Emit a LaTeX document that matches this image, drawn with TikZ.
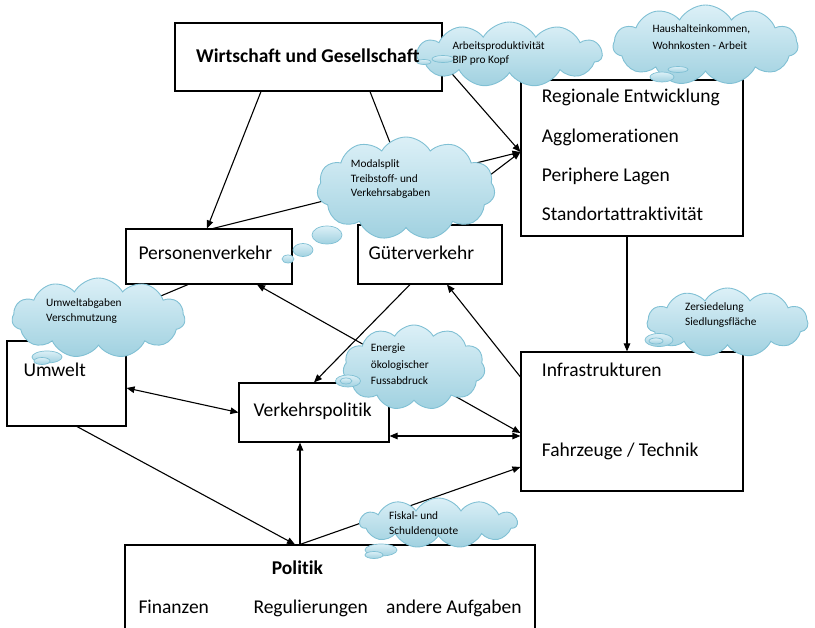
\documentclass[tikz,border=0pt]{standalone}
\usepackage{fontspec}
\setmainfont{Carlito}[Ligatures={NoCommon}]
\usetikzlibrary{shapes.symbols,shapes.geometric,arrows.meta}
\definecolor{cloudtop}{RGB}{220,240,247}
\definecolor{cloudbot}{RGB}{160,209,224}
\definecolor{cloudline}{RGB}{128,192,212}
\newcommand\boxfnt{\fontsize{19.5}{23}\selectfont}
\newcommand\cloudfnt{\fontsize{11.3}{14}\selectfont}
\begin{document}
\begin{tikzpicture}[x=1pt,y=-1pt,
  >={Triangle[length=8pt,width=6.5pt]},
  box/.style={draw=black,line width=1.1pt,inner sep=0pt,fill=white},
  conn/.style={draw=black,line width=1.1pt},
  cloudy/.style={cloud,cloud puffs=11,cloud puff arc=120,cloud ignores aspect,draw=cloudline,line width=0.9pt,top color=cloudtop,bottom color=cloudbot,inner sep=0pt},
  bubble/.style={ellipse,draw=cloudline,line width=0.7pt,top color=cloudtop,bottom color=cloudbot,inner sep=0pt},
  btxt/.style={anchor=base west,inner sep=0pt,font=\boxfnt},
  ctxt/.style={anchor=base west,inner sep=0pt,font=\cloudfnt}
]
\useasboundingbox (0,0) rectangle (815,628);

% boxes
\node[box, minimum width=267, minimum height=68] (wirt) at (308.5,57) {};
\node[box, minimum width=222, minimum height=156] (reg) at (632,158) {};
\node[box, minimum width=166, minimum height=55] (pers) at (209,256.5) {};
\node[box, minimum width=144, minimum height=59] (gut) at (430,254.5) {};
\node[box, minimum width=119, minimum height=85] (umw) at (66.5,383.5) {};
\node[box, minimum width=150, minimum height=59] (vpol) at (314,412.5) {};
\node[box, minimum width=222, minimum height=139] (infra) at (632,421.5) {};
\node[box, minimum width=410, minimum height=105] (pol) at (330,597.5) {};

% connectors
\draw[conn,->] ([xshift=-47.5pt]wirt.south) -- ([xshift=-2pt]pers.north);
\draw[conn,->] ([xshift=61.5pt]wirt.south) -- ([xshift=-8pt]gut.north);
\draw[conn,->] ([yshift=-6pt]wirt.east) -- ([yshift=6pt]reg.west);
\draw[conn,->] ([xshift=4pt]pers.north) -- ([yshift=6pt]reg.west);
\draw[conn,->] ([xshift=-5pt]gut.north) -- ([yshift=6pt]reg.west);
\draw[conn,->] ([xshift=-5pt]reg.south) -- ([xshift=-5pt]infra.north);
\draw[conn,->] ([yshift=44.5pt]infra.west) -- ([xshift=17pt]gut.south);
\draw[conn,<->] ([xshift=48pt]pers.south) -- ([yshift=-11.5pt]infra.west);
\draw[conn,<->] ([yshift=-14.5pt]infra.west) -- ([yshift=-23.5pt]vpol.east);
\draw[conn,->] ([xshift=-20pt]gut.south) -- (vpol.north);
\draw[conn,<->] ([yshift=-4.5pt]umw.east) -- (vpol.west);
\draw[conn,->] ([xshift=10.5pt]umw.south) -- ([xshift=-35pt]pol.north);
\draw[conn,->] ([xshift=-30pt]pol.north) -- ([xshift=-14pt]vpol.south);
\draw[conn,->] ([xshift=-30pt]pol.north) -- ([yshift=-45.5pt]infra.west);
\draw[conn] ([xshift=-21pt]pers.south) -- ([xshift=-11.5pt]umw.north);

% clouds
\node[cloudy, minimum width=185, minimum height=65] (c1) at (509.5,54.5) {};
\node[bubble, minimum width=22, minimum height=7] (c1a) at (443,59) {};
\node[bubble, minimum width=14, minimum height=5] (c1b) at (424,62) {};

\node[cloudy, minimum width=185, minimum height=80] (c2) at (705.5,45) {};
\node[bubble, minimum width=20, minimum height=6] (c2a) at (678,69.5) {};
\node[bubble, minimum width=24, minimum height=10] (c2b) at (662,77) {};

\node[cloudy, minimum width=178, minimum height=103] (c3) at (406,188.5) {};
\node[bubble, minimum width=30, minimum height=18] (c3a) at (327,235) {};
\node[bubble, minimum width=20, minimum height=13] (c3b) at (303,250) {};
\node[bubble, minimum width=12, minimum height=8] (c3c) at (288,259) {};

\node[cloudy, minimum width=173, minimum height=80] (c4) at (98.5,318) {};
\node[bubble, minimum width=30, minimum height=12] (c4a) at (47,357) {};
\node[bubble, minimum width=16, minimum height=7] (c4b) at (42,361) {};

\node[cloudy, minimum width=142, minimum height=85] (c5) at (414,367.5) {};
\node[bubble, minimum width=25, minimum height=12] (c5a) at (348,381) {};
\node[bubble, minimum width=12, minimum height=6] (c5b) at (346,381) {};

\node[cloudy, minimum width=161, minimum height=69] (c6) at (727.5,322.5) {};
\node[bubble, minimum width=28, minimum height=13] (c6a) at (659,340) {};
\node[bubble, minimum width=14, minimum height=6] (c6b) at (656,341) {};

\node[cloudy, minimum width=157, minimum height=50] (c7) at (438.5,523) {};
\node[bubble, minimum width=32, minimum height=12] (c7a) at (381,550) {};
\node[bubble, minimum width=18, minimum height=7] (c7b) at (374,555) {};

% box texts
\node[btxt,font=\boxfnt\bfseries] (wirtT) at (196,63) {Wirtschaft und Gesellschaft};
\node[btxt] (reg1) at (541.7,103) {Regionale Entwicklung};
\node[btxt] (reg2) at (541.7,142.5) {Agglomerationen};
\node[btxt] (reg3) at (541.7,181.7) {Periphere Lagen};
\node[btxt] (reg4) at (541.7,221) {Standortattraktivität};
\node[btxt] (persT) at (138.3,260) {Personenverkehr};
\node[btxt] (gutT) at (368.3,260) {Güterverkehr};
\node[btxt] (umwT) at (23.3,377) {Umwelt};
\node[btxt] (vpolT) at (253.3,417) {Verkehrspolitik};
\node[btxt] (infra1) at (541.7,377) {Infrastrukturen};
\node[btxt] (infra2) at (541.7,456.5) {Fahrzeuge / Technik};
\node[btxt,font=\boxfnt\bfseries] (polT) at (271.7,574) {Politik};
\node[btxt] (pol1) at (138.3,613) {Finanzen};
\node[btxt] (pol2) at (253.3,613) {Regulierungen};
\node[btxt] (pol3) at (386,613) {andere Aufgaben};

% cloud texts
\node[ctxt] (c1t1) at (452.3,50) {Arbeitsproduktivität};
\node[ctxt] (c1t2) at (452.3,64) {BIP pro Kopf};
\node[ctxt] (c2t1) at (652.3,33) {Haushalteinkommen,};
\node[ctxt] (c2t2) at (652.3,50) {Wohnkosten - Arbeit};
\node[ctxt] (c3t1) at (350.7,167.7) {Modalsplit};
\node[ctxt] (c3t2) at (350.7,182.3) {Treibstoff- und};
\node[ctxt] (c3t3) at (350.7,196.7) {Verkehrsabgaben};
\node[ctxt] (c4t1) at (46,306.7) {Umweltabgaben};
\node[ctxt] (c4t2) at (46,322) {Verschmutzung};
\node[ctxt] (c5t1) at (370.7,351.7) {Energie};
\node[ctxt] (c5t2) at (370.7,368.3) {ökologischer};
\node[ctxt] (c5t3) at (370.7,385) {Fussabdruck};
\node[ctxt] (c6t1) at (685,310.7) {Zersiedelung};
\node[ctxt] (c6t2) at (685,325.7) {Siedlungsfläche};
\node[ctxt] (c7t1) at (389,520) {Fiskal- und};
\node[ctxt] (c7t2) at (389,535) {Schuldenquote};
\end{tikzpicture}
\end{document}
